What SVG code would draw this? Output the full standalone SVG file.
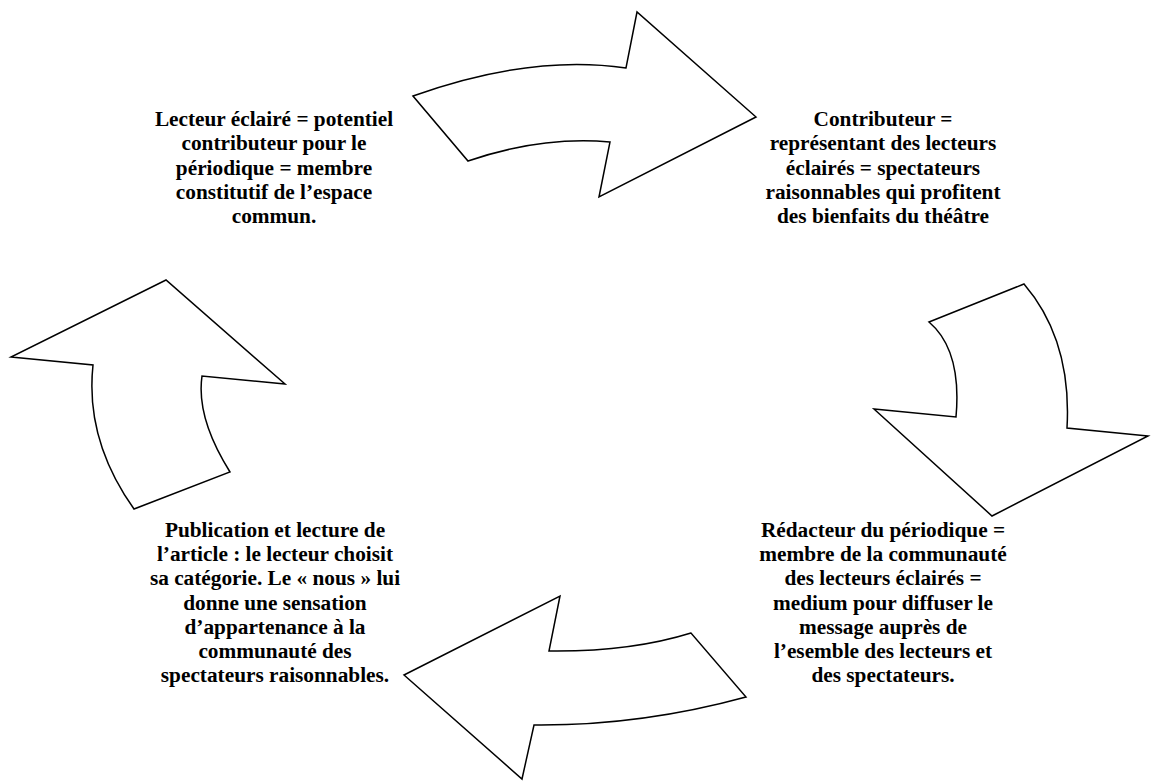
<svg xmlns="http://www.w3.org/2000/svg" width="1151" height="781" viewBox="0 0 1151 781">
<style>
.arrow{fill:#fff;stroke:#000;stroke-width:1.5;stroke-linejoin:miter}
.t{font-family:"Liberation Serif","Times New Roman",serif;font-weight:bold;font-size:21.3px;fill:#000;text-anchor:middle}
</style>
<rect width="1151" height="781" fill="#fff"/>
<g id="connectors">
<path id="arrow-top" class="arrow" d="M413,96 Q530,54 626,68 L637,12 L756,117 L599,197 L610,142 Q541,136 468,161 Z"/>
<path id="arrow-right" class="arrow" d="M929,322 L1024,284 Q1072,340 1067,428 L1148,436 L992,516 L874,409 L956,417 Q962,350 929,322 Z"/>
<path id="arrow-bottom" class="arrow" d="M404,675 L560,596 L549,651 Q630,652 691,633 L746,697 Q640,726 534,725 L522,779 Z"/>
<path id="arrow-left" class="arrow" d="M166,280 L11,357 L93,365 Q85,440 134,509 L230,472 Q196,418 202,376 L285,384 Z"/>
</g>
<g id="node-lecteur">
<text class="t" x="274" y="126">Lecteur éclairé = potentiel</text>
<text class="t" x="274" y="150">contributeur pour le</text>
<text class="t" x="274" y="175">périodique = membre</text>
<text class="t" x="274" y="199">constitutif de l’espace</text>
<text class="t" x="274" y="223">commun.</text>
</g>
<g id="node-contributeur">
<text class="t" x="883" y="126">Contributeur =</text>
<text class="t" x="883" y="150">représentant des lecteurs</text>
<text class="t" x="883" y="175">éclairés = spectateurs</text>
<text class="t" x="883" y="199">raisonnables qui profitent</text>
<text class="t" x="883" y="223">des bienfaits du théâtre</text>
</g>
<g id="node-redacteur">
<text class="t" x="883" y="537">Rédacteur du périodique =</text>
<text class="t" x="883" y="561">membre de la communauté</text>
<text class="t" x="883" y="585">des lecteurs éclairés =</text>
<text class="t" x="883" y="610">medium pour diffuser le</text>
<text class="t" x="883" y="634">message auprès de</text>
<text class="t" x="883" y="658">l’esemble des lecteurs et</text>
<text class="t" x="883" y="682">des spectateurs.</text>
</g>
<g id="node-publication">
<text class="t" x="275" y="537">Publication et lecture de</text>
<text class="t" x="275" y="561">l’article : le lecteur choisit</text>
<text class="t" x="275" y="585">sa catégorie. Le « nous » lui</text>
<text class="t" x="275" y="610">donne une sensation</text>
<text class="t" x="275" y="634">d’appartenance à la</text>
<text class="t" x="275" y="658">communauté des</text>
<text class="t" x="275" y="682">spectateurs raisonnables.</text>
</g>
</svg>
